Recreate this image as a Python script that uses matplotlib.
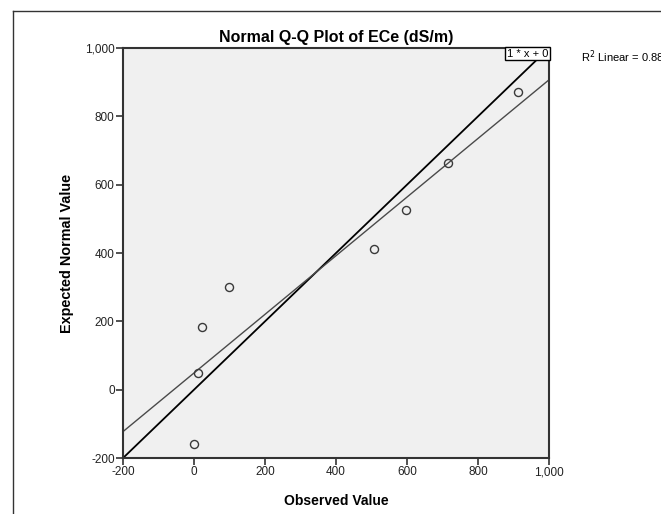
import numpy as np
import matplotlib.pyplot as plt
from matplotlib.lines import Line2D
from matplotlib.ticker import FuncFormatter

plt.rcParams['font.family'] = ['Liberation Sans', 'DejaVu Sans']

# Observed ECe values and their expected normal quantiles
observed = [1, 10, 23, 98, 508, 596, 715, 912]
expected = [-159, 48, 184, 300, 412, 527, 664, 872]

ticks = [-200, 0, 200, 400, 600, 800, 1000]

fig = plt.figure(figsize=(6.61, 5.14), dpi=100)
ax = fig.add_axes([0.1861, 0.1089, 0.6445, 0.7977])
ax.set_facecolor('#f0f0f0')

# Linear fit of expected on observed
x = np.array(observed, dtype=float)
y = np.array(expected, dtype=float)
slope, intercept = np.polyfit(x, y, 1)
r2 = np.corrcoef(x, y)[0, 1] ** 2

xs = np.array([-200, 1000])
ax.plot(xs, xs, color='black', lw=1.3, zorder=2)
ax.plot(xs, slope * xs + intercept, color='#4a4a4a', lw=1.0, zorder=2)
ax.plot(observed, expected, 'o', mfc='none', mec='#3a3a3a', mew=1.0, ms=5.8, zorder=3)

ax.set_xlim(-200, 1000)
ax.set_ylim(-200, 1000)
ax.set_xticks(ticks)
ax.set_yticks(ticks)
fmt = FuncFormatter(lambda v, p: f'{int(v):,}')
ax.xaxis.set_major_formatter(fmt)
ax.yaxis.set_major_formatter(fmt)
ax.tick_params(direction='out', length=5, width=1.2, color='#333333',
               labelsize=8.5, labelcolor='#222222', pad=1)
for s in ax.spines.values():
    s.set_color('#333333')
    s.set_linewidth(1.5)

ax.text(0.998, 0.998, '1 * x + 0', transform=ax.transAxes, ha='right', va='top',
        fontsize=8, zorder=5,
        bbox=dict(boxstyle='square,pad=0.12', fc='white', ec='black', lw=1.0))
ax.text(1.075, 1.0, f'R$^2$ Linear = {r2:.3f}', transform=ax.transAxes,
        ha='left', va='top', fontsize=8, clip_on=False)

ax.set_title('Normal Q-Q Plot of ECe (dS/m)', fontsize=11.5, fontweight='bold', pad=4)
ax.set_xlabel('Observed Value', fontsize=10, fontweight='bold', labelpad=11)
ax.set_ylabel('Expected Normal Value', fontsize=10.4, fontweight='bold', labelpad=8)

# outer chart frame (top and left edges)
fig.add_artist(Line2D([12.5 / 661, 1.0], [1 - 10.5 / 514, 1 - 10.5 / 514],
                      transform=fig.transFigure, color='#333333', lw=1.0))
fig.add_artist(Line2D([12.5 / 661, 12.5 / 661], [0.0, 1 - 10.5 / 514],
                      transform=fig.transFigure, color='#333333', lw=1.0))

fig.savefig('out.png', dpi=100)
